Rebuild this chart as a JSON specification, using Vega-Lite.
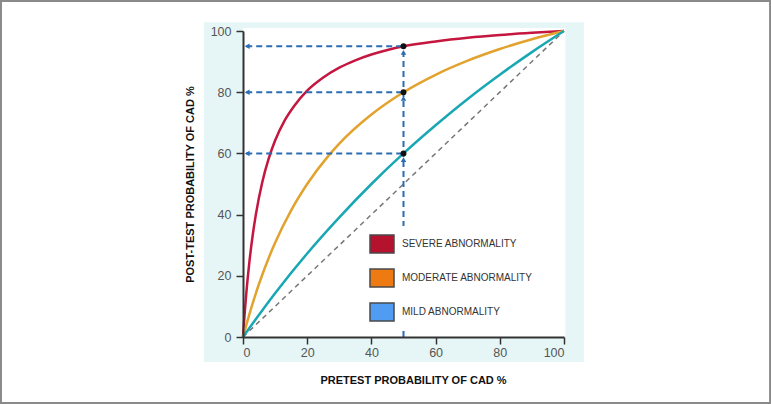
{
  "$schema": "https://vega.github.io/schema/vega-lite/v6.json",
  "width": 321,
  "height": 306,
  "autosize": {"type": "none"},
  "padding": {"left": 243, "top": 31, "right": 207, "bottom": 67},
  "background": "white",
  "config": {
    "view": {"stroke": null},
    "axis": {
      "grid": false,
      "domainColor": "#333333",
      "domainWidth": 2,
      "tickColor": "#333333",
      "tickWidth": 1.5,
      "tickSize": 7,
      "labelColor": "#555555",
      "labelFont": "Liberation Sans",
      "labelFontSize": 12.5,
      "titleFont": "Liberation Sans",
      "titleFontWeight": "bold",
      "titleFontSize": 11,
      "titleColor": "#111111"
    },
    "legend": {
      "orient": "none",
      "legendX": 121,
      "legendY": 195,
      "fillColor": "white",
      "padding": 5,
      "symbolType": "M-1,-0.75L1,-0.75L1,0.75L-1,0.75Z",
      "symbolSize": 576,
      "symbolStrokeColor": "#4a4a4a",
      "symbolStrokeWidth": 1.5,
      "symbolOpacity": 1,
      "labelFont": "Liberation Sans",
      "labelFontSize": 10,
      "labelColor": "#333333",
      "labelOffset": 7,
      "labelLimit": 300,
      "rowPadding": 9
    }
  },
  "datasets": {
    "curves": [
      {"curve": "severe", "p": 0, "post": 0},
      {"curve": "severe", "p": 0.5, "post": 7.5},
      {"curve": "severe", "p": 1, "post": 13.9},
      {"curve": "severe", "p": 2, "post": 24.6},
      {"curve": "severe", "p": 3, "post": 33.1},
      {"curve": "severe", "p": 4, "post": 40},
      {"curve": "severe", "p": 6, "post": 50.6},
      {"curve": "severe", "p": 8, "post": 58.3},
      {"curve": "severe", "p": 10, "post": 64.2},
      {"curve": "severe", "p": 13, "post": 70.8},
      {"curve": "severe", "p": 16, "post": 75.6},
      {"curve": "severe", "p": 20, "post": 80.5},
      {"curve": "severe", "p": 25, "post": 84.8},
      {"curve": "severe", "p": 30, "post": 88},
      {"curve": "severe", "p": 35, "post": 90.4},
      {"curve": "severe", "p": 40, "post": 92.3},
      {"curve": "severe", "p": 45, "post": 93.8},
      {"curve": "severe", "p": 50, "post": 95},
      {"curve": "severe", "p": 60, "post": 96.6},
      {"curve": "severe", "p": 70, "post": 97.8},
      {"curve": "severe", "p": 80, "post": 98.7},
      {"curve": "severe", "p": 90, "post": 99.4},
      {"curve": "severe", "p": 100, "post": 100},
      {"curve": "moderate", "p": 0, "post": 0},
      {"curve": "moderate", "p": 2, "post": 7.5},
      {"curve": "moderate", "p": 5, "post": 17.4},
      {"curve": "moderate", "p": 10, "post": 30.8},
      {"curve": "moderate", "p": 15, "post": 41.4},
      {"curve": "moderate", "p": 20, "post": 50},
      {"curve": "moderate", "p": 26.6, "post": 59.2},
      {"curve": "moderate", "p": 30, "post": 63.2},
      {"curve": "moderate", "p": 40, "post": 72.7},
      {"curve": "moderate", "p": 50, "post": 80},
      {"curve": "moderate", "p": 60, "post": 85.7},
      {"curve": "moderate", "p": 70, "post": 90.3},
      {"curve": "moderate", "p": 80, "post": 94.1},
      {"curve": "moderate", "p": 90, "post": 97.3},
      {"curve": "moderate", "p": 100, "post": 100},
      {"curve": "mild", "p": 0, "post": 0},
      {"curve": "mild", "p": 10, "post": 14.3},
      {"curve": "mild", "p": 20, "post": 27.3},
      {"curve": "mild", "p": 30, "post": 39.1},
      {"curve": "mild", "p": 40, "post": 50},
      {"curve": "mild", "p": 50, "post": 60},
      {"curve": "mild", "p": 60, "post": 69.2},
      {"curve": "mild", "p": 70, "post": 77.8},
      {"curve": "mild", "p": 80, "post": 85.7},
      {"curve": "mild", "p": 90, "post": 93.1},
      {"curve": "mild", "p": 100, "post": 100}
    ],
    "hguides": [
      {"x": 1, "x2": 50, "y": 95},
      {"x": 1, "x2": 50, "y": 80},
      {"x": 1, "x2": 50, "y": 60}
    ],
    "vguides": [
      {"x": 50, "y": 0, "y2": 93}
    ],
    "uparrows": [
      {"x": 50, "y": 93},
      {"x": 50, "y": 78},
      {"x": 50, "y": 58}
    ],
    "leftarrows": [
      {"x": 1.3, "y": 95},
      {"x": 1.3, "y": 80},
      {"x": 1.3, "y": 60}
    ],
    "dots": [
      {"x": 50, "y": 95},
      {"x": 50, "y": 80},
      {"x": 50, "y": 60}
    ],
    "legendItems": [
      {"label": "SEVERE ABNORMALITY", "x": 50, "y": 50},
      {"label": "MODERATE ABNORMALITY", "x": 50, "y": 50},
      {"label": "MILD ABNORMALITY", "x": 50, "y": 50}
    ]
  },
  "layer": [
    {
      "data": {"values": [{}]},
      "mark": {"type": "rect", "fill": "#e6f6f7", "clip": false},
      "encoding": {
        "x": {"datum": -12.2, "type": "quantitative", "scale": {"domain": [0, 100]}},
        "x2": {"datum": 106.2},
        "y": {"datum": -8.2, "type": "quantitative", "scale": {"domain": [0, 100]}},
        "y2": {"datum": 102.9}
      }
    },
    {
      "data": {"values": [{}]},
      "mark": {"type": "rect", "fill": "white", "clip": false},
      "encoding": {
        "x": {"datum": 0, "type": "quantitative"},
        "x2": {"datum": 100.4},
        "y": {"datum": 0, "type": "quantitative"},
        "y2": {"datum": 101}
      }
    },
    {
      "data": {"values": [{}]},
      "mark": {"type": "rect", "fill": null, "stroke": "#8a8a8a", "strokeWidth": 2, "clip": false},
      "encoding": {
        "x": {"datum": -75.4, "type": "quantitative"},
        "x2": {"datum": 164.2},
        "y": {"datum": -21.6, "type": "quantitative"},
        "y2": {"datum": 109.8}
      }
    },
    {
      "data": {"values": [{"x": 0, "y": 0, "x2": 100, "y2": 100}]},
      "mark": {"type": "rule", "color": "#777777", "strokeWidth": 1.5, "strokeDash": [5, 4]},
      "encoding": {
        "x": {"field": "x", "type": "quantitative"},
        "y": {"field": "y", "type": "quantitative"},
        "x2": {"field": "x2"},
        "y2": {"field": "y2"}
      }
    },
    {
      "data": {"name": "curves"},
      "mark": {"type": "line", "strokeWidth": 2.5, "interpolate": "monotone"},
      "encoding": {
        "x": {
          "field": "p", "type": "quantitative",
          "scale": {"domain": [0, 100]},
          "axis": {"values": [0, 20, 40, 60, 80, 100], "title": "PRETEST PROBABILITY OF CAD %", "labelPadding": 2, "titlePadding": 16, "titleX": 170, "zindex": 1}
        },
        "y": {
          "field": "post", "type": "quantitative",
          "scale": {"domain": [0, 100]},
          "axis": {"values": [0, 20, 40, 60, 80, 100], "title": "POST-TEST PROBABILITY OF CAD %", "labelPadding": 5, "titlePadding": 15, "zindex": 1}
        },
        "stroke": {
          "field": "curve", "type": "nominal",
          "scale": {"domain": ["severe", "moderate", "mild"], "range": ["#c4163f", "#e2a22e", "#19a7b3"]},
          "legend": null
        }
      }
    },
    {
      "data": {"name": "hguides"},
      "mark": {"type": "rule", "color": "#2b6db2", "strokeWidth": 2, "strokeDash": [6, 4]},
      "encoding": {
        "x": {"field": "x", "type": "quantitative"},
        "x2": {"field": "x2"},
        "y": {"field": "y", "type": "quantitative"}
      }
    },
    {
      "data": {"name": "vguides"},
      "mark": {"type": "rule", "color": "#2b6db2", "strokeWidth": 2, "strokeDash": [6, 4]},
      "encoding": {
        "x": {"field": "x", "type": "quantitative"},
        "y": {"field": "y", "type": "quantitative"},
        "y2": {"field": "y2"}
      }
    },
    {
      "data": {"name": "leftarrows"},
      "mark": {"type": "point", "shape": "triangle-left", "filled": true, "color": "#2b6db2", "size": 30, "opacity": 1},
      "encoding": {
        "x": {"field": "x", "type": "quantitative"},
        "y": {"field": "y", "type": "quantitative"}
      }
    },
    {
      "data": {"name": "uparrows"},
      "mark": {"type": "point", "shape": "triangle-up", "filled": true, "color": "#2b6db2", "size": 30, "opacity": 1},
      "encoding": {
        "x": {"field": "x", "type": "quantitative"},
        "y": {"field": "y", "type": "quantitative"}
      }
    },
    {
      "data": {"name": "dots"},
      "mark": {"type": "point", "filled": true, "color": "#111111", "size": 35, "opacity": 1},
      "encoding": {
        "x": {"field": "x", "type": "quantitative"},
        "y": {"field": "y", "type": "quantitative"}
      }
    },
    {
      "data": {"name": "legendItems"},
      "mark": {"type": "square", "size": 0},
      "encoding": {
        "x": {"field": "x", "type": "quantitative"},
        "y": {"field": "y", "type": "quantitative"},
        "fill": {
          "field": "label", "type": "nominal",
          "scale": {"domain": ["SEVERE ABNORMALITY", "MODERATE ABNORMALITY", "MILD ABNORMALITY"], "range": ["#b5122e", "#ee7b12", "#4f9cf2"]},
          "legend": {"title": null}
        }
      }
    }
  ]
}
